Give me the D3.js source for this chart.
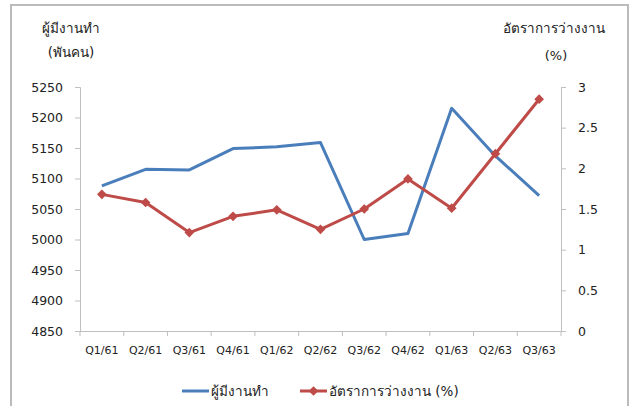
<!DOCTYPE html>
<html>
<head>
<meta charset="utf-8">
<script src="https://cdn.jsdelivr.net/npm/d3@7"></script>
<style>
  body { margin: 0; background: #fff; }
  svg text { font-family: Tahoma, "DejaVu Sans", "Noto Sans", sans-serif; fill: #222; }
</style>
</head>
<body>
<svg id="chart" width="631" height="406"></svg>
<script>
// Data
const quarters = ['Q1/61', 'Q2/61', 'Q3/61', 'Q4/61', 'Q1/62', 'Q2/62', 'Q3/62', 'Q4/62', 'Q1/63', 'Q2/63', 'Q3/63'];
const employed = [5088, 5115, 5114, 5149, 5152, 5159, 5000, 5010, 5215, 5137, 5072];
const unemploymentRate = [1.68, 1.58, 1.21, 1.41, 1.49, 1.25, 1.50, 1.87, 1.51, 2.18, 2.85];
const leftTicks = [4850, 4900, 4950, 5000, 5050, 5100, 5150, 5200, 5250];
const rightTicks = [0, 0.5, 1, 1.5, 2, 2.5, 3];

const blue = '#4a7ebb', red = '#be4b48', axisColor = '#bfbfbf';
const svg = d3.select('#chart');

// outer frame
svg.append('rect')
  .attr('x', 11).attr('y', 5).attr('width', 617).attr('height', 410)
  .attr('fill', 'none').attr('stroke', '#bbb').attr('stroke-width', 2);

const x = d3.scaleBand().domain(quarters).range([80, 561]);
const yLeft = d3.scaleLinear().domain([4850, 5250]).range([331, 87]);
const yRight = d3.scaleLinear().domain([0, 3]).range([331, 87]);

// left axis
const gl = svg.append('g').attr('transform', 'translate(80,0)')
  .call(d3.axisLeft(yLeft).tickValues(leftTicks).tickFormat(d3.format('d')).tickSize(5).tickPadding(12));
// right axis
const gr = svg.append('g').attr('transform', 'translate(561,0)')
  .call(d3.axisRight(yRight).tickValues(rightTicks).tickFormat(d3.format('')).tickSize(5).tickPadding(12));
// bottom axis: ticks at band edges
const gb = svg.append('g').attr('transform', 'translate(0,331)')
  .call(d3.axisBottom(x).tickSize(0).tickPadding(15));
gb.selectAll('.tick text').attr('font-size', 11);
quarters.concat([null]).forEach((q, i) => {
  const xx = i < quarters.length ? x(q) : x.range()[1];
  gb.append('line').attr('x1', xx).attr('x2', xx).attr('y1', 0).attr('y2', 5).attr('stroke', axisColor);
});

[gl, gr, gb].forEach(g => {
  g.select('.domain').attr('stroke', axisColor);
  g.selectAll('.tick line').attr('stroke', axisColor);
  g.selectAll('text').attr('fill', '#222');
});
gl.selectAll('.tick text').attr('font-size', 12.5);
gr.selectAll('.tick text').attr('font-size', 12.5);

// axis titles
svg.append('text').attr('x', 71).attr('y', 33).attr('text-anchor', 'middle').attr('font-size', 13.5).text('ผู้มีงานทำ');
svg.append('text').attr('x', 71).attr('y', 57).attr('text-anchor', 'middle').attr('font-size', 13.5).text('(พันคน)');
svg.append('text').attr('x', 554).attr('y', 33).attr('text-anchor', 'middle').attr('font-size', 13.5).text('อัตราการว่างงาน');
svg.append('text').attr('x', 556).attr('y', 60).attr('text-anchor', 'middle').attr('font-size', 13).text('(%)');

const cx = q => x(q) + x.bandwidth() / 2;

// employed line
svg.append('path')
  .datum(employed)
  .attr('fill', 'none').attr('stroke', blue).attr('stroke-width', 3).attr('stroke-linejoin', 'round')
  .attr('d', d3.line().x((d, i) => cx(quarters[i])).y(d => yLeft(d)));

// unemployment line
svg.append('path')
  .datum(unemploymentRate)
  .attr('fill', 'none').attr('stroke', red).attr('stroke-width', 3).attr('stroke-linejoin', 'round')
  .attr('d', d3.line().x((d, i) => cx(quarters[i])).y(d => yRight(d)));

const diamond = d3.symbol().type(d3.symbolDiamond2).size(60);
svg.selectAll('.marker')
  .data(unemploymentRate)
  .enter()
  .append('path')
  .attr('class', 'marker')
  .attr('d', diamond)
  .attr('transform', (d, i) => `translate(${cx(quarters[i])},${yRight(d)})`)
  .attr('fill', red);

// legend
const legend = svg.append('g');
legend.append('line').attr('x1', 182).attr('x2', 209).attr('y1', 391).attr('y2', 391).attr('stroke', blue).attr('stroke-width', 3);
legend.append('text').attr('x', 211).attr('y', 396).attr('font-size', 13.5).text('ผู้มีงานทำ');
legend.append('line').attr('x1', 300).attr('x2', 327).attr('y1', 391).attr('y2', 391).attr('stroke', red).attr('stroke-width', 3);
legend.append('path').attr('d', diamond).attr('transform', 'translate(313.5,391)').attr('fill', red);
legend.append('text').attr('x', 329).attr('y', 396).attr('font-size', 13.5).text('อัตราการว่างงาน (%)');
</script>
</body>
</html>
